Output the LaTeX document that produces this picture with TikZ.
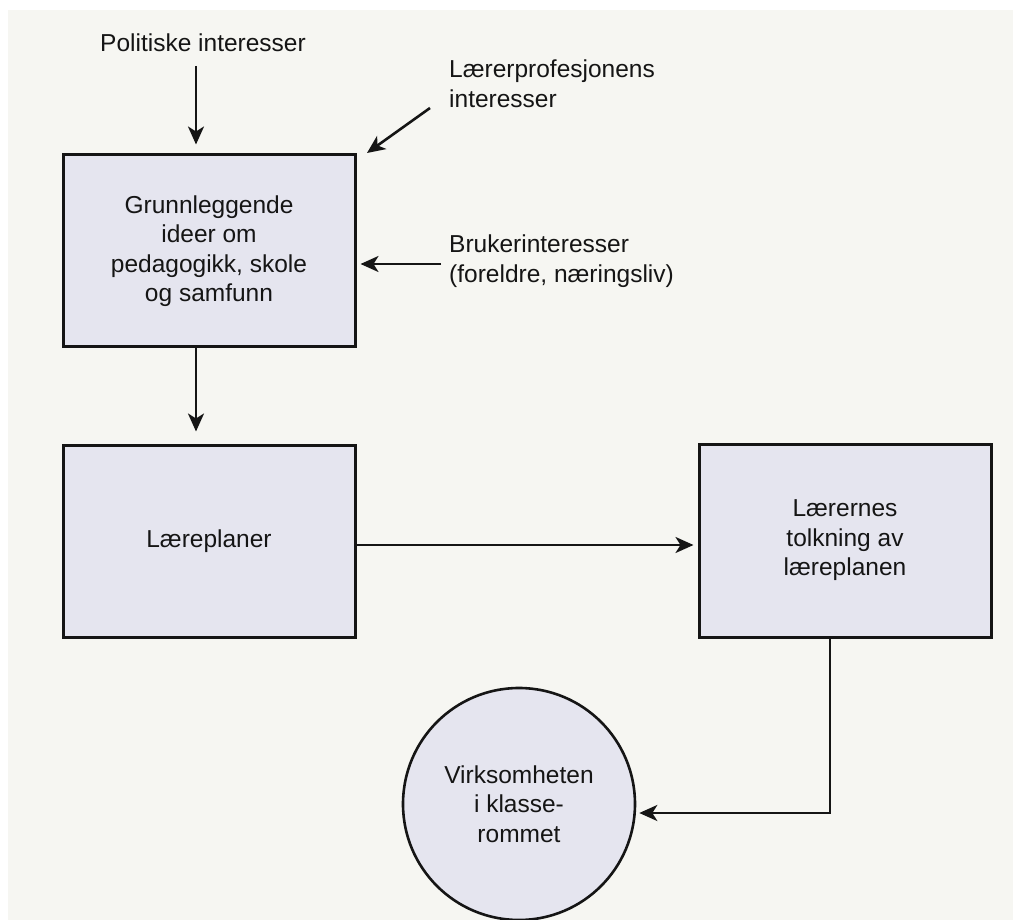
\documentclass[tikz,border=0pt]{standalone}
\usepackage{fontspec}
\setmainfont{Liberation Sans}
\usetikzlibrary{arrows.meta}
\definecolor{paper}{HTML}{F6F6F2}
\definecolor{boxfill}{HTML}{E5E5EF}
\definecolor{ink}{HTML}{151515}
\tikzset{
  boxnode/.style={draw=ink, line width=3pt, fill=boxfill, minimum width=292pt, minimum height=192pt, align=center, inner sep=0pt, text=ink},
  circnode/.style={circle, draw=ink, line width=2.6pt, fill=boxfill, minimum size=232pt, align=center, inner sep=0pt, text=ink},
  lbl/.style={text=ink, inner sep=0pt, align=left},
  arr/.style={draw=ink, line width=2.6pt, -{Stealth[length=18pt, width=16pt, inset=5pt]}}
}
\begin{document}
\begin{tikzpicture}[x=1pt, y=-1pt, font=\fontsize{24.5}{29.5}\selectfont]
\useasboundingbox (0,0) rectangle (1013,920);
\fill[white] (0,0) rectangle (1013,920);
\fill[paper] (8,10) rectangle (1013,920);
% nodes
\node[boxnode] (ideer) at (209,251) {Grunnleggende\\ideer om\\pedagogikk, skole\\og samfunn};
\node[boxnode] (plan) at (209,541) {Læreplaner};
\node[boxnode, minimum height=193pt] (tolk) at (845,540.5) {Lærernes\\tolkning av\\læreplanen};
\node[circnode] (klasse) at (519,804) {Virksomheten\\i klasse-\\rommet};
\node[lbl, anchor=base] (pol) at (203,52) {Politiske interesser};
\node[lbl, anchor=north west] (prof) at (449,60) {Lærerprofesjonens\\interesser};
\node[lbl, anchor=north west] (bruk) at (449,235) {Brukerinteresser\\(foreldre, næringsliv)};
% connector helper coordinates
\coordinate (polx) at (196,66);
\coordinate (profs) at (430,108);
\coordinate (profe) at (367,153);
\coordinate (bruks) at (441,264);
% connectors
\draw[arr, shorten >=9pt] (polx) -- (polx |- ideer.north);
\draw[arr] (profs) -- (profe);
\draw[arr, shorten >=4pt] (bruks) -- (bruks -| ideer.east);
\draw[arr, shorten >=12pt] ([xshift=-13pt]ideer.south) -- ([xshift=-13pt]plan.north);
\draw[arr, shorten >=4pt] ([yshift=-4pt]plan.east) -- ([yshift=-4pt]plan.east -| tolk.west);
\draw[arr, shorten >=3pt] ([xshift=-15pt]tolk.south) |- ([yshift=-9pt]klasse.east);
\end{tikzpicture}
\end{document}
